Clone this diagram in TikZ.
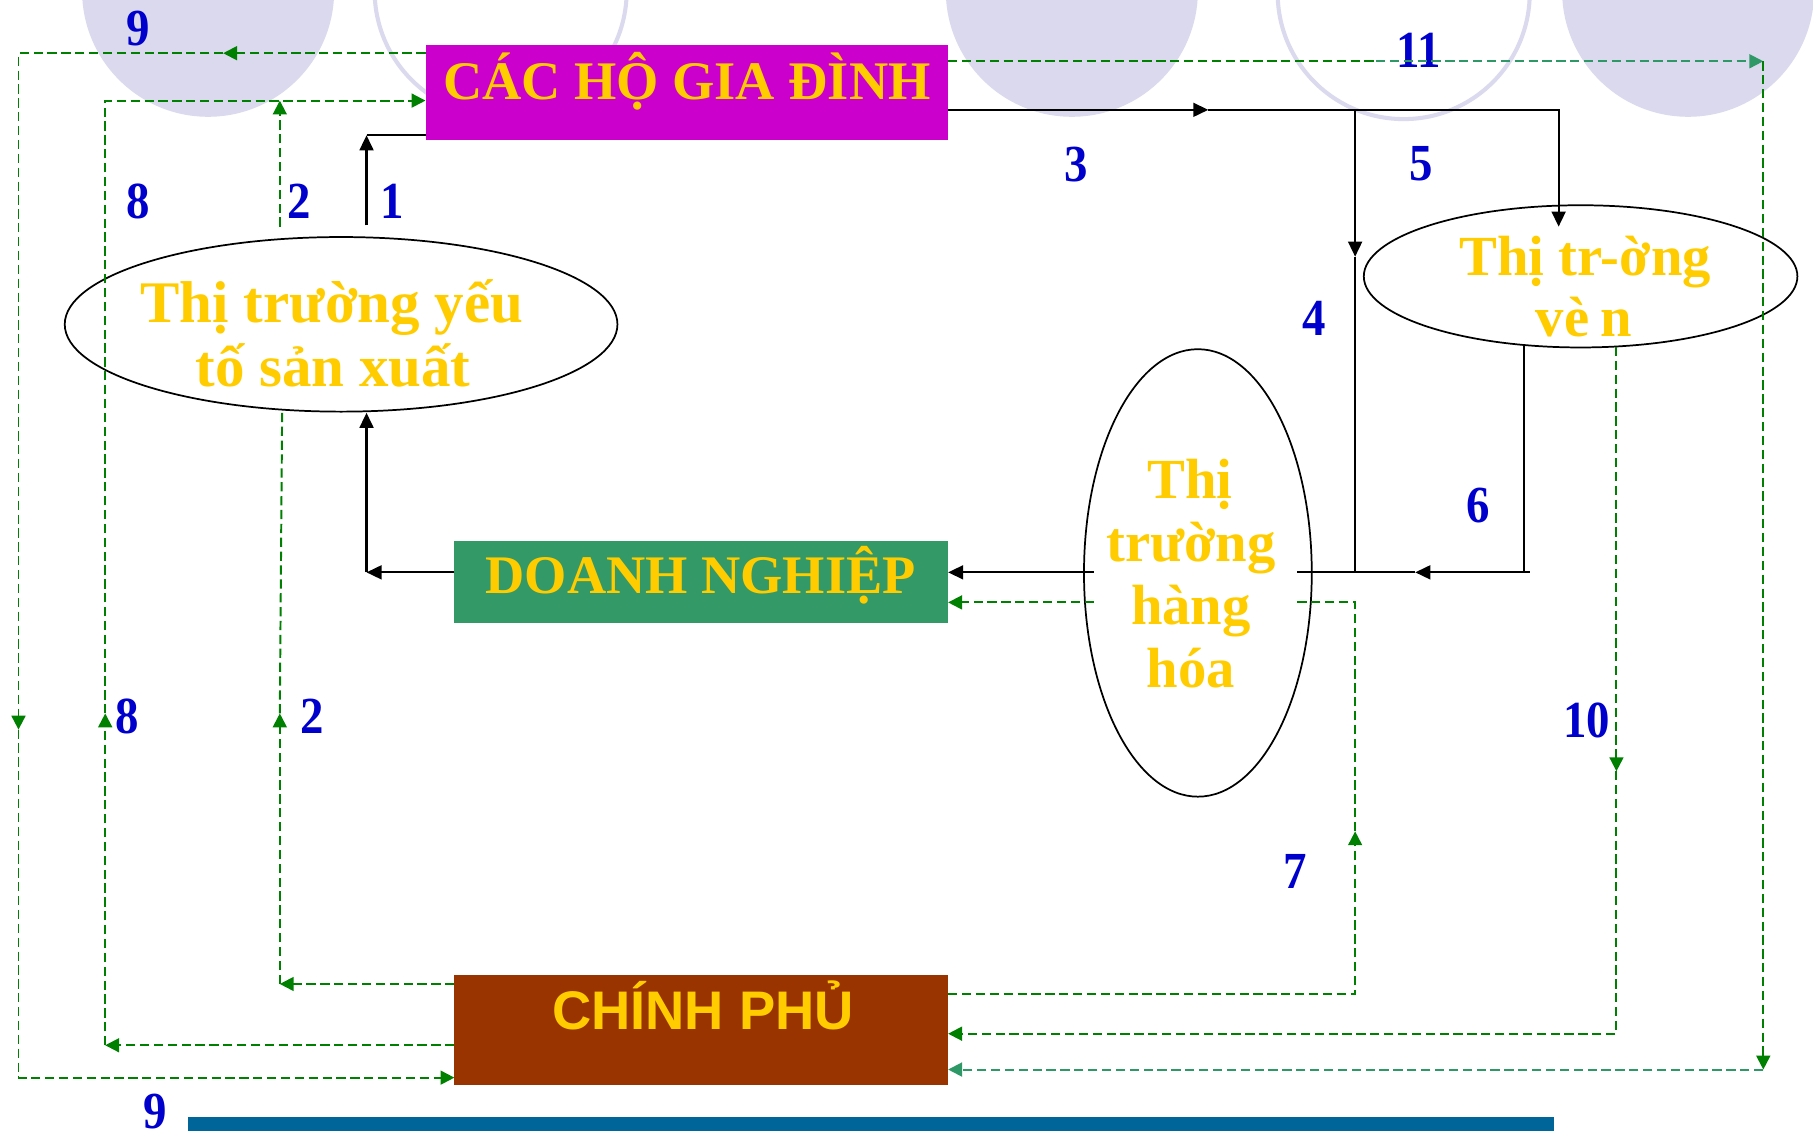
\documentclass[tikz,border=0pt]{standalone}
\usepackage{fontspec}
\setmainfont{Liberation Serif}
\newfontfamily\numfont[FakeStretch=0.9]{Liberation Serif}
\newfontfamily\sansb{Liberation Sans}
\usetikzlibrary{arrows.meta,shapes.geometric}
\definecolor{lav}{HTML}{DAD9EE}
\definecolor{hgdc}{HTML}{CC00CC}
\definecolor{dnc}{HTML}{339966}
\definecolor{cpc}{HTML}{993300}
\definecolor{barc}{HTML}{006699}
\definecolor{ylw}{HTML}{FFCC00}
\definecolor{numc}{HTML}{0000CC}
\definecolor{grn}{HTML}{008000}
\definecolor{sgrn}{HTML}{2E9966}
\begin{document}
\begin{tikzpicture}[x=1pt,y=-1pt,
  boxnode/.style={draw=none,inner sep=0pt,outer sep=0pt,anchor=north west},
  oval/.style={ellipse,draw=black,line width=1.5pt,inner sep=0pt,outer sep=0pt},
  lbl/.style={text=ylw,font=\fontsize{47}{55}\selectfont\bfseries,inner sep=0pt,anchor=base},
  ovlbl/.style={lbl,font=\fontsize{#1}{55}\selectfont\bfseries},
  numlbl/.style={text=numc,font=\numfont\fontsize{45}{50}\selectfont\bfseries,inner sep=0pt,anchor=base},
  blk/.style={line width=1.8pt,black},
  tipB/.style={-{Triangle[length=13pt,width=12pt]}},
  gline/.style={grn,line width=1.7pt,dash pattern=on 8pt off 4pt},
  tipG/.style={-{Triangle[length=12pt,width=12pt]}},
]
\useasboundingbox (0,0) rectangle (1568,978);
\fill[white] (0,0) rectangle (1568,978);

% background circles
\fill[lav] (180,-8) circle[radius=109pt];
\draw[lav,line width=3.5pt,fill=white] (433,-8) circle[radius=109pt];
\fill[lav] (927,-8) circle[radius=109pt];
\draw[lav,line width=3.5pt,fill=white] (1214,-6) circle[radius=109pt];
\fill[lav] (1460,-8) circle[radius=109pt];

% boxes
\node[boxnode,fill=hgdc,minimum width=452pt,minimum height=82pt] (hgd) at (368,39) {};
\node[boxnode,fill=dnc,minimum width=427pt,minimum height=71pt] (dn) at (393,468) {};
\node[boxnode,fill=cpc,minimum width=427pt,minimum height=95pt] (cp) at (393,843) {};
\node[boxnode,fill=barc,minimum width=1181pt,minimum height=14pt] (bar) at (163,966) {};

% ellipses
\node[oval,minimum width=478pt,minimum height=151pt] (yt) at (295,280.5) {};
\node[oval,minimum width=375pt,minimum height=123pt] (von) at (1367,239) {};
\node[oval,minimum width=197pt,minimum height=387pt] (hh) at (1036,495.5) {};

% texts
\node[lbl] (thgd) at (594,86) {CÁC HỘ GIA ĐÌNH};
\node[lbl] (tdn) at (606,513) {DOANH NGHIỆP};
\node[lbl,font=\sansb\fontsize{47}{55}\selectfont\bfseries] (tcp) at (608,890) {CHÍNH PHỦ};
\node[ovlbl=51] (tyt1) at (287,279) {Thị trường yếu};
\node[ovlbl=51] (tyt2) at (288,334) {tố sản xuất};
\node[ovlbl=49] (tvon1) at (1371,238) {Thị tr-ờng};
\node[ovlbl=49] (tvon2) at (1370,291) {vè\hspace{0.2em}n};
\node[ovlbl=49] (thh1) at (1029,431) {Thị};
\node[ovlbl=49] (thh2) at (1030,486) {trường};
\node[ovlbl=49] (thh3) at (1030,540.5) {hàng};
\node[ovlbl=49] (thh4) at (1030,595) {hóa};

% numbers
\node[numlbl] (n9a) at (119.5,39) {9};
\node[numlbl] (n8a) at (119.5,189) {8};
\node[numlbl] (n2a) at (258.5,189) {2};
\node[numlbl] (n1) at (339.5,189) {1};
\node[numlbl] (n3) at (931,157) {3};
\node[numlbl] (n5) at (1229,156) {5};
\node[numlbl] (n11) at (1227,58) {11};
\node[numlbl] (n4) at (1137,290) {4};
\node[numlbl] (n6) at (1278,452) {6};
\node[numlbl] (n8b) at (110,634) {8};
\node[numlbl] (n2b) at (270,634) {2};
\node[numlbl] (n9b) at (134,976) {9};
\node[numlbl] (n10) at (1372.5,638) {10};
\node[numlbl] (n7) at (1120,768) {7};

% coordinates
\coordinate (c1s) at (317,195);
\coordinate (c1k) at (317,117);
\coordinate (c3a) at (1045,95);
\coordinate (c4t) at (1172,95);
\coordinate (c4a) at (1172,222);
\coordinate (c4b) at (1172,495);
\coordinate (c5t) at (1348,95);
\coordinate (c5e) at (1348,196);
\coordinate (c6t) at (1318,299);
\coordinate (c6b) at (1318,495);
\coordinate (c6r) at (1323,495);
\coordinate (c6a) at (1224,495);
\coordinate (hhr) at (1122,495);
\coordinate (hhl) at (946,495);
\coordinate (dnk) at (317,495);
\coordinate (ytb) at (317,357);

% black connectors
\draw[blk,tipB] (c1s) -- (c1k);
\draw[blk] (c1k) -- (c1k -| hgd.west);
\draw[blk,tipB] (hgd.east |- c3a) -- (c3a);
\draw[blk,tipB] (c3a) -- (c5t) -- (c5e);
\draw[blk,tipB] (c4t) -- (c4a);
\draw[blk] (c4a) -- (c4b);
\draw[blk] (c6t) -- (c6b);
\draw[blk,tipB] (c6r) -- (c6a);
\draw[blk] (c6a) -- (hhr);
\draw[blk,tipB] (hhl) -- (hhl -| dn.east);
\draw[blk,tipB] (dnk -| dn.west) -- (dnk);
\draw[blk,tipB] (dnk) -- (ytb);

% green dashed connectors
% 9
\coordinate (g9a) at (193,46);
\coordinate (g9b) at (16,46);
\coordinate (g9c) at (16,631);
\coordinate (g9d) at (16,932);
\draw[gline,tipG] (g9a -| hgd.west) -- (g9a);
\draw[gline,tipG] (g9a) -- (g9b) -- (g9c);
\draw[gline,tipG] (g9c) -- (g9d) -- (g9d -| cp.west);
% 8
\coordinate (g8a) at (91,904);
\coordinate (g8b) at (91,617);
\coordinate (g8c) at (91,87);
\draw[gline,tipG] (g8a -| cp.west) -- (g8a);
\draw[gline,tipG] (g8a) -- (g8b);
\draw[gline,tipG] (g8b) -- (g8c) -- (g8c -| hgd.west);
% 2 lower
\coordinate (g2a) at (242,851);
\coordinate (g2b) at (242,617);
\coordinate (g2c) at (244,357);
\draw[gline,tipG] (g2a -| cp.west) -- (g2a);
\draw[gline,tipG] (g2a) -- (g2b);
\draw[gline] (g2b) -- (g2c);
% 2 upper
\coordinate (g2d) at (242,196);
\coordinate (g2e) at (242,87);
\draw[gline,tipG] (g2d) -- (g2e);
% 11
\coordinate (g11m) at (1190,53);
\coordinate (g11a) at (1525,53);
\coordinate (g11b) at (1525,925);
\draw[gline] (g11m -| hgd.east) -- (g11m);
\draw[gline,sgrn,tipG] (g11m) -- (g11a);
\draw[gline,tipG] (g11a) -- (g11b);
\draw[gline,sgrn,tipG] (g11b) -- (g11b -| cp.east);
% 10
\coordinate (g10a) at (1398,300);
\coordinate (g10b) at (1398,667);
\coordinate (g10c) at (1398,894);
\draw[gline,tipG] (g10a) -- (g10b);
\draw[gline,tipG] (g10b) -- (g10c) -- (g10c -| cp.east);
% 7
\coordinate (g7a) at (1172,860);
\coordinate (g7b) at (1172,719);
\coordinate (g7c) at (1172,521);
\coordinate (g7d) at (1122,521);
\coordinate (g7e) at (946,521);
\draw[gline,tipG] (g7a -| cp.east) -- (g7a) -- (g7b);
\draw[gline] (g7b) -- (g7c) -- (g7d);
\draw[gline,tipG] (g7e) -- (g7e -| dn.east);
\end{tikzpicture}
\end{document}
